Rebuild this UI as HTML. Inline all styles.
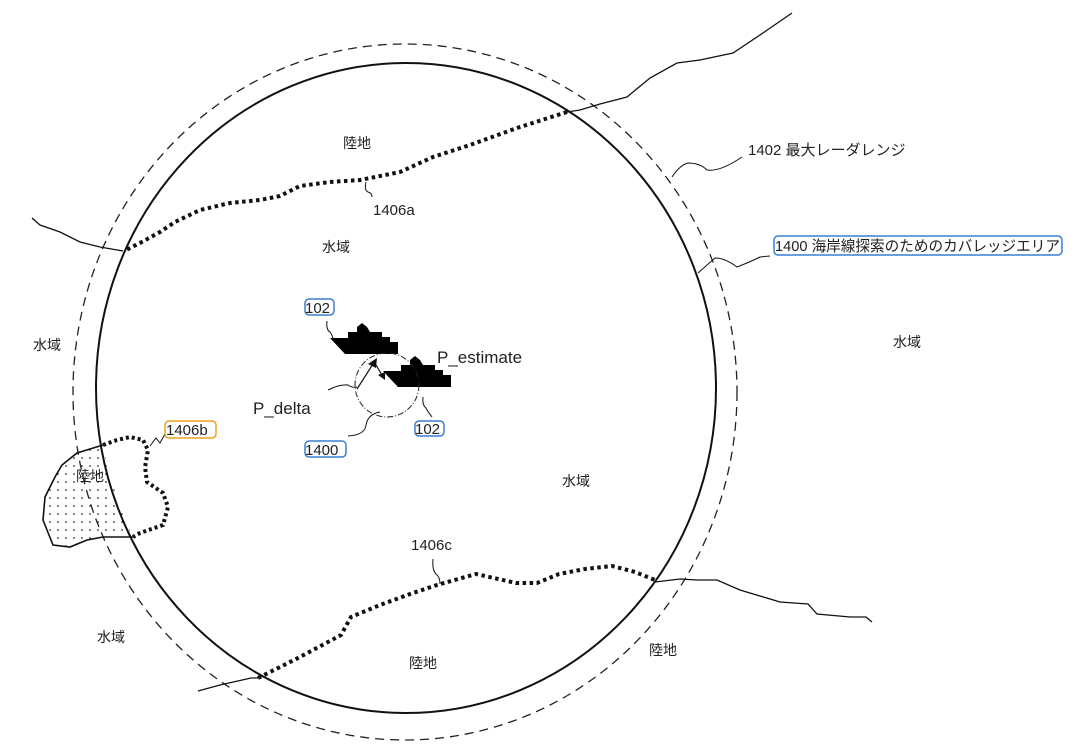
<!DOCTYPE html>
<html><head><meta charset="utf-8"><style>
html,body{margin:0;padding:0;background:#fff;}
svg{display:block;}
text{font-family:"Liberation Sans","Noto Sans CJK JP",sans-serif;font-size:14px;fill:#222;}
</style></head><body>
<svg width="1080" height="747" viewBox="0 0 1080 747" xmlns="http://www.w3.org/2000/svg">
<defs>
<pattern id="dots" width="8" height="8" patternUnits="userSpaceOnUse">
<circle cx="2" cy="2" r="0.9" fill="#333"/>
</pattern>
</defs>
<path d="M103,445 L77,453 L62,465 L55,477 L45,497 L43,520 L53,545 L70,547 L87,540 L103,537 L133,537 Q112,492 103,445 Z" fill="url(#dots)"/>
<ellipse cx="405" cy="392" rx="332" ry="348" fill="none" stroke="#222" stroke-width="1.3" stroke-dasharray="9,6"/>
<ellipse cx="406" cy="388" rx="310" ry="325" fill="none" stroke="#111" stroke-width="2"/>
<polyline points="792,13 760,35 733,53 700,60 677,63 650,78 627,97 600,104 580,110 567,112" fill="none" stroke="#111" stroke-width="1.3"/>
<polyline points="567,112 517,128 470,145 433,157 400,172 360,180 330,182 300,186 280,196 260,200 230,203 200,210 175,222 160,232 140,243 124,251" fill="none" stroke="#111" stroke-width="4" stroke-dasharray="3.5,3.5"/>
<polyline points="32,218 40,225 60,232 80,242 100,247 123,251" fill="none" stroke="#111" stroke-width="1.3"/>
<polyline points="258,678 300,657 341,635 351,617 380,605 410,594 437,585 476,574 516,583 537,583 559,574 585,569 612,566 635,572 655,580" fill="none" stroke="#111" stroke-width="4" stroke-dasharray="3.5,3.5"/>
<polyline points="655,582 680,579 697,580 717,580 740,590 780,602 808,604 817,614 850,617 866,617 872,622" fill="none" stroke="#111" stroke-width="1.3"/>
<polyline points="198,691 220,685 251,678 258,678" fill="none" stroke="#111" stroke-width="1.3"/>
<polyline points="133,537 103,537 87,540 70,547 53,545 43,520 45,497 55,477 62,465 77,453 103,445" fill="none" stroke="#111" stroke-width="1.6"/>
<polyline points="103,445 117,440 130,437 143,440 148,450 145,467 147,482 163,493 168,507 163,525 140,533 133,537" fill="none" stroke="#111" stroke-width="4" stroke-dasharray="3,3"/>
<polyline points="150,446 156,438 160,443 165,434" fill="none" stroke="#111" stroke-width="1"/>
<rect x="165" y="421" width="51" height="17" rx="4" fill="none" stroke="#f0a020" stroke-width="1.5"/>
<text x="166" y="435" style="font-size:15px">1406b</text>
<text x="76" y="481">陸地</text>
<g fill="#000">
<polygon points="330,338 348,338 348,332 357,332 357,327 362,323 367,327 370,332 382,332 382,337 390,337 390,342 398,342 398,354 345,354"/>
<polygon transform="translate(53,33)" points="330,338 348,338 348,332 357,332 357,327 362,323 367,327 370,332 382,332 382,337 390,337 390,342 398,342 398,354 345,354"/>
</g>
<circle cx="387" cy="385" r="32" fill="none" stroke="#222" stroke-width="1" stroke-dasharray="6,2,1,2"/>
<line x1="357" y1="389" x2="373" y2="364" stroke="#111" stroke-width="1.2"/>
<polygon points="377,358 368,364 376,368" fill="#111"/>
<line x1="376" y1="365" x2="382" y2="375" stroke="#111" stroke-width="1.2"/>
<polygon points="385,380 378,375 385,372" fill="#111"/>
<rect x="305" y="299" width="29" height="16" rx="4" fill="none" stroke="#3a7fd5" stroke-width="1.5"/>
<text x="305" y="313" style="font-size:15px">102</text>
<path d="M327,321 Q326,330 330,332 Q333,336 333,340" fill="none" stroke="#111" stroke-width="1"/>
<rect x="415" y="421" width="29" height="15" rx="4" fill="none" stroke="#3a7fd5" stroke-width="1.5"/>
<text x="415" y="434" style="font-size:15px">102</text>
<path d="M423,397 Q422,405 426,408 Q428,412 432,417" fill="none" stroke="#111" stroke-width="1"/>
<rect x="305" y="441" width="41" height="16" rx="4" fill="none" stroke="#3a7fd5" stroke-width="1.5"/>
<text x="305" y="455" style="font-size:15px">1400</text>
<path d="M348,436 Q365,435 366,425 Q368,414 380,412" fill="none" stroke="#111" stroke-width="1"/>
<text x="253" y="414" style="font-size:17px">P_delta</text>
<path d="M328,390 Q340,384 348,385 Q352,388 357,387" fill="none" stroke="#111" stroke-width="1"/>
<text x="437" y="363" style="font-size:17px">P_estimate</text>
<text x="343" y="148">陸地</text>
<path d="M366,182 Q364,190 368,192 Q372,193 372,197" fill="none" stroke="#111" stroke-width="1"/>
<text x="373" y="215" style="font-size:15px">1406a</text>
<text x="322" y="252">水域</text>
<text x="33" y="350">水域</text>
<text x="893" y="347">水域</text>
<text x="562" y="486">水域</text>
<text x="411" y="550" style="font-size:15px">1406c</text>
<path d="M433,559 Q432,570 436,574 Q440,577 440,584" fill="none" stroke="#111" stroke-width="1"/>
<text x="97" y="642">水域</text>
<text x="409" y="668">陸地</text>
<text x="649" y="655">陸地</text>
<path d="M672,177 Q680,165 688,163 Q700,163 707,170 Q720,172 742,157" fill="none" stroke="#111" stroke-width="1"/>
<text x="748" y="155" style="font-size:15px">1402 最大レーダレンジ</text>
<path d="M698,273 L715,258 Q725,258 737,267 Q750,262 760,257 L770,256" fill="none" stroke="#111" stroke-width="1"/>
<rect x="774" y="236" width="288" height="19" rx="4" fill="none" stroke="#3a7fd5" stroke-width="1.5"/>
<text x="775" y="251" textLength="285" lengthAdjust="spacingAndGlyphs" style="font-size:15px">1400 海岸線探索のためのカバレッジエリア</text>
</svg>
</body></html>
